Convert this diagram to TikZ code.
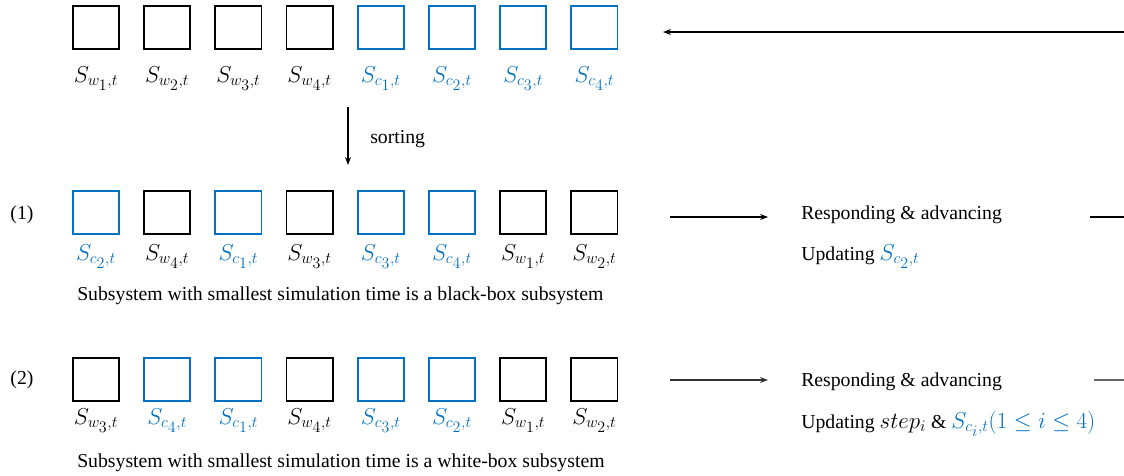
\documentclass[tikz,border=0pt]{standalone}
\usepackage{fontspec}
\setmainfont{Liberation Serif}
\usetikzlibrary{arrows.meta}
\definecolor{cblue}{RGB}{0,112,192}
\begin{document}
\begin{tikzpicture}[x=0.75pt,y=-0.75pt,
  font=\rmfamily\fontsize{14.8}{17}\selectfont,
  bx/.style={draw,line width=1.3pt,minimum width=34.7pt,minimum height=32.4pt,inner sep=0pt},
  lbl/.style={anchor=base,inner sep=0pt,font=\fontsize{17}{20}\selectfont},
  conn/.style={line width=0.8pt},
  arr/.style={conn,-{Stealth[length=6pt,width=4.5pt]}},
  txt/.style={anchor=base west,inner sep=0pt}]
\useasboundingbox (0,0) rectangle (1124,475);
% row 1
\foreach [count=\i from 0] \col/\k/\n in {black/w/1,black/w/2,black/w/3,black/w/4,cblue/c/1,cblue/c/2,cblue/c/3,cblue/c/4}{
  \node[bx,draw=\col] (ra\i) at (96+71.2*\i,27.5) {};
  \node[lbl,text=\col] (la\i) at (96+71.2*\i,82) {$S_{\k_{\scriptstyle\n},t}$};
}
% row 2
\foreach [count=\i from 0] \col/\k/\n in {cblue/c/2,black/w/4,cblue/c/1,black/w/3,cblue/c/3,cblue/c/4,black/w/1,black/w/2}{
  \node[bx,draw=\col] (rb\i) at (96+71.2*\i,212.5) {};
  \node[lbl,text=\col] (lb\i) at (96+71.2*\i,260) {$S_{\k_{\scriptstyle\n},t}$};
}
% row 3
\foreach [count=\i from 0] \col/\k/\n in {black/w/3,cblue/c/4,cblue/c/1,black/w/4,cblue/c/3,cblue/c/2,black/w/1,black/w/2}{
  \node[bx,draw=\col] (rc\i) at (96+71.2*\i,379.5) {};
  \node[lbl,text=\col] (lc\i) at (96+71.2*\i,424) {$S_{\k_{\scriptstyle\n},t}$};
}
% top return arrow
\coordinate (t1) at (1124,32);
\coordinate (t2) at (663,32);
\draw[arr] (t1) -- (t2);
% sorting
\coordinate (s1) at (348,107);
\coordinate (s2) at (348,165);
\draw[arr] (s1) -- (s2);
\node[txt] (sort) at (370,143) {sorting};
% case labels
\node (n1) at (22,215) {(1)};
\node (n2) at (22,380) {(2)};
% case 1
\coordinate (a1) at (670,217);
\coordinate (a2) at (768,217);
\draw[arr] (a1) -- (a2);
\node[txt] (resp1) at (801,219) {Responding \& advancing};
\node[txt] (upd1) at (801,260) {Updating {\fontsize{17}{20}\selectfont\textcolor{cblue}{$S_{c_{\scriptstyle 2},t}$}}};
\coordinate (e1) at (1090,217);
\coordinate (e2) at (1124,217);
\draw[conn] (e1) -- (e2);
\node[txt] (cap1) at (77,300) {Subsystem with smallest simulation time is a black-box subsystem};
% case 2
\coordinate (b1) at (670,380);
\coordinate (b2) at (768,380);
\draw[arr,black!80] (b1) -- (b2);
\node[txt] (resp2) at (801,386) {Responding \& advancing};
\node[txt] (upd2) at (801,428) {Updating {\fontsize{17}{20}\selectfont$step_i$} \& {\fontsize{17}{20}\selectfont\textcolor{cblue}{$S_{c_{\scriptstyle i},t}(1\le i\le 4)$}}};
\coordinate (f1) at (1094,380);
\coordinate (f2) at (1124,380);
\draw[conn,black!60] (f1) -- (f2);
\node[txt] (cap2) at (77,467) {Subsystem with smallest simulation time is a white-box subsystem};
\end{tikzpicture}
\end{document}
